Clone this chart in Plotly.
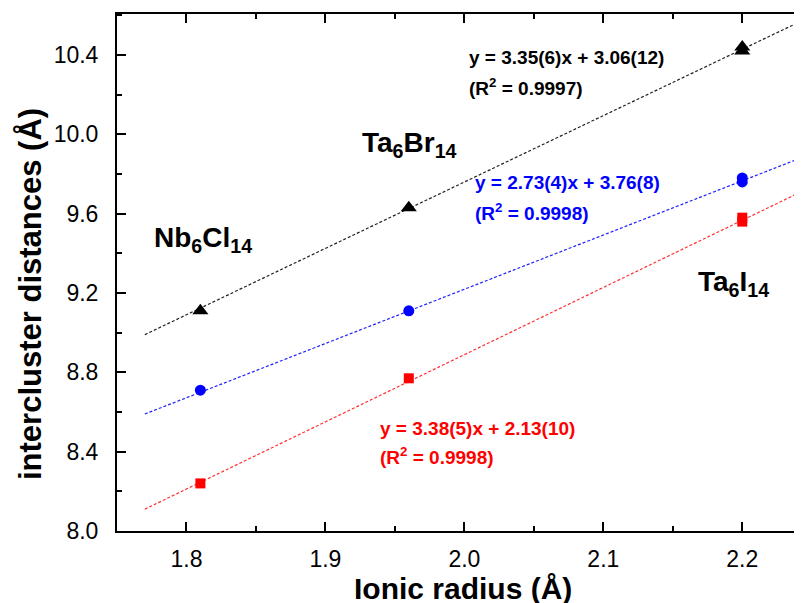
import plotly.graph_objects as go

# ---- data ----
radius = [1.81, 1.96, 2.20, 2.20]
dist_black = [9.11, 9.63, 10.42, 10.44]
dist_blue = [8.71, 9.11, 9.76, 9.78]
dist_red = [8.24, 8.77, 9.56, 9.58]

fit_x = [1.77, 2.26]
fit_black = [8.99, 10.63]
fit_blue = [8.59, 9.93]
fit_red = [8.11, 9.77]

eq_black = ["y = 3.35(6)x + 3.06(12)", "(R<sup>2</sup> = 0.9997)"]
eq_blue = ["y = 2.73(4)x + 3.76(8)", "(R<sup>2</sup> = 0.9998)"]
eq_red = ["y = 3.38(5)x + 2.13(10)", "(R<sup>2</sup> = 0.9998)"]

compounds = ["Nb<sub>6</sub>Cl<sub>14</sub>", "Ta<sub>6</sub>Br<sub>14</sub>", "Ta<sub>6</sub>I<sub>14</sub>"]

x_ticks = [1.8, 1.9, 2.0, 2.1, 2.2]
y_ticks = [8.0, 8.4, 8.8, 9.2, 9.6, 10.0, 10.4]

FONT = "Liberation Sans, Arial, sans-serif"

# page body adds an 8px offset; plot area on screen: x 117..(beyond 802), y 14..531
OFF = 8
PL, PT, PB = 117 - OFF, 14 - OFF, 531 - OFF
W, H = 802, 603
PW = W - PL
PH = PB - PT
XR0 = 1.75
XR1 = XR0 + PW / 1389.5

def px(sx):
    return (sx - 117) / PW

def py(sy):
    return (531 - sy) / PH

fig = go.Figure()

for fy, col in [(fit_black, "#222222"), (fit_blue, "#2020ff"), (fit_red, "#ff3030")]:
    fig.add_trace(go.Scatter(x=fit_x, y=fy, mode="lines",
                             line=dict(color=col, width=1.2, dash="3px,2px"),
                             showlegend=False, hoverinfo="skip"))

fig.add_trace(go.Scatter(x=radius, y=dist_black, mode="markers",
                         marker=dict(symbol="triangle-up", size=14, color="black"), showlegend=False))
fig.add_trace(go.Scatter(x=radius, y=dist_blue, mode="markers",
                         marker=dict(symbol="circle", size=11, color="#0000ff"), showlegend=False))
fig.add_trace(go.Scatter(x=radius, y=dist_red, mode="markers",
                         marker=dict(symbol="square", size=10, color="#ff0000"), showlegend=False))

ann = []
def eq(lines, x, y1, y2, color):
    for txt, yy in zip(lines, [y1, y2]):
        ann.append(dict(x=x, y=yy, xref="x", yref="y", text="<b>" + txt + "</b>", showarrow=False,
                        xanchor="left", yanchor="middle",
                        font=dict(family=FONT, size=19, color=color)))

eq(eq_black, 2.002, 10.39, 10.24, "black")
eq(eq_blue, 2.006, 9.755, 9.61, "#0000ff")
eq(eq_red, 1.938, 8.515, 8.38, "#ff0000")

for txt, x, y in zip(compounds, [1.775, 1.925, 2.167], [9.47, 9.95, 9.25]):
    ann.append(dict(x=x, y=y, xref="x", yref="y", text="<b>" + txt + "</b>", showarrow=False,
                    xanchor="left", yanchor="middle",
                    font=dict(family=FONT, size=28, color="black")))

# axis titles
ann.append(dict(x=px(463), y=py(588), xref="paper", yref="paper",
                text="<b>Ionic radius (Å)</b>", showarrow=False, xanchor="center", yanchor="middle",
                font=dict(family=FONT, size=30, color="black")))
ann.append(dict(x=px(30), y=py(294), xref="paper", yref="paper",
                text="<b>intercluster distances (Å)</b>", showarrow=False, xanchor="center",
                yanchor="middle", textangle=-90,
                font=dict(family=FONT, size=31, color="black")))

fig.update_layout(
    width=W, height=H,
    margin=dict(l=PL, r=0, t=PT, b=H - PB, autoexpand=False),
    paper_bgcolor="white", plot_bgcolor="white",
    annotations=ann,
    font=dict(family=FONT, color="black"),
)

fig.update_xaxes(
    range=[XR0, XR1], tickvals=x_ticks, ticktext=[f"{v:.1f}" for v in x_ticks],
    ticks="inside", ticklen=9, tickwidth=2, tickcolor="black", ticklabelstandoff=6,
    minor=dict(ticks="inside", ticklen=5, tickwidth=2, dtick=0.05, tick0=1.75, tickcolor="black"),
    showline=True, linewidth=2, linecolor="black", mirror="ticks",
    showgrid=False, zeroline=False, automargin=False,
    tickfont=dict(size=23, family=FONT),
)
fig.update_yaxes(
    range=[8.0, 10.607], tickvals=y_ticks, ticktext=[f"{v:.1f}" for v in y_ticks],
    ticks="inside", ticklen=9, tickwidth=2, tickcolor="black", ticklabelstandoff=12,
    minor=dict(ticks="inside", ticklen=5, tickwidth=2, dtick=0.2, tick0=8.0, tickcolor="black"),
    showline=True, linewidth=2, linecolor="black",
    showgrid=False, zeroline=False, automargin=False,
    tickfont=dict(size=23, family=FONT),
)

fig.write_html("out.html")
